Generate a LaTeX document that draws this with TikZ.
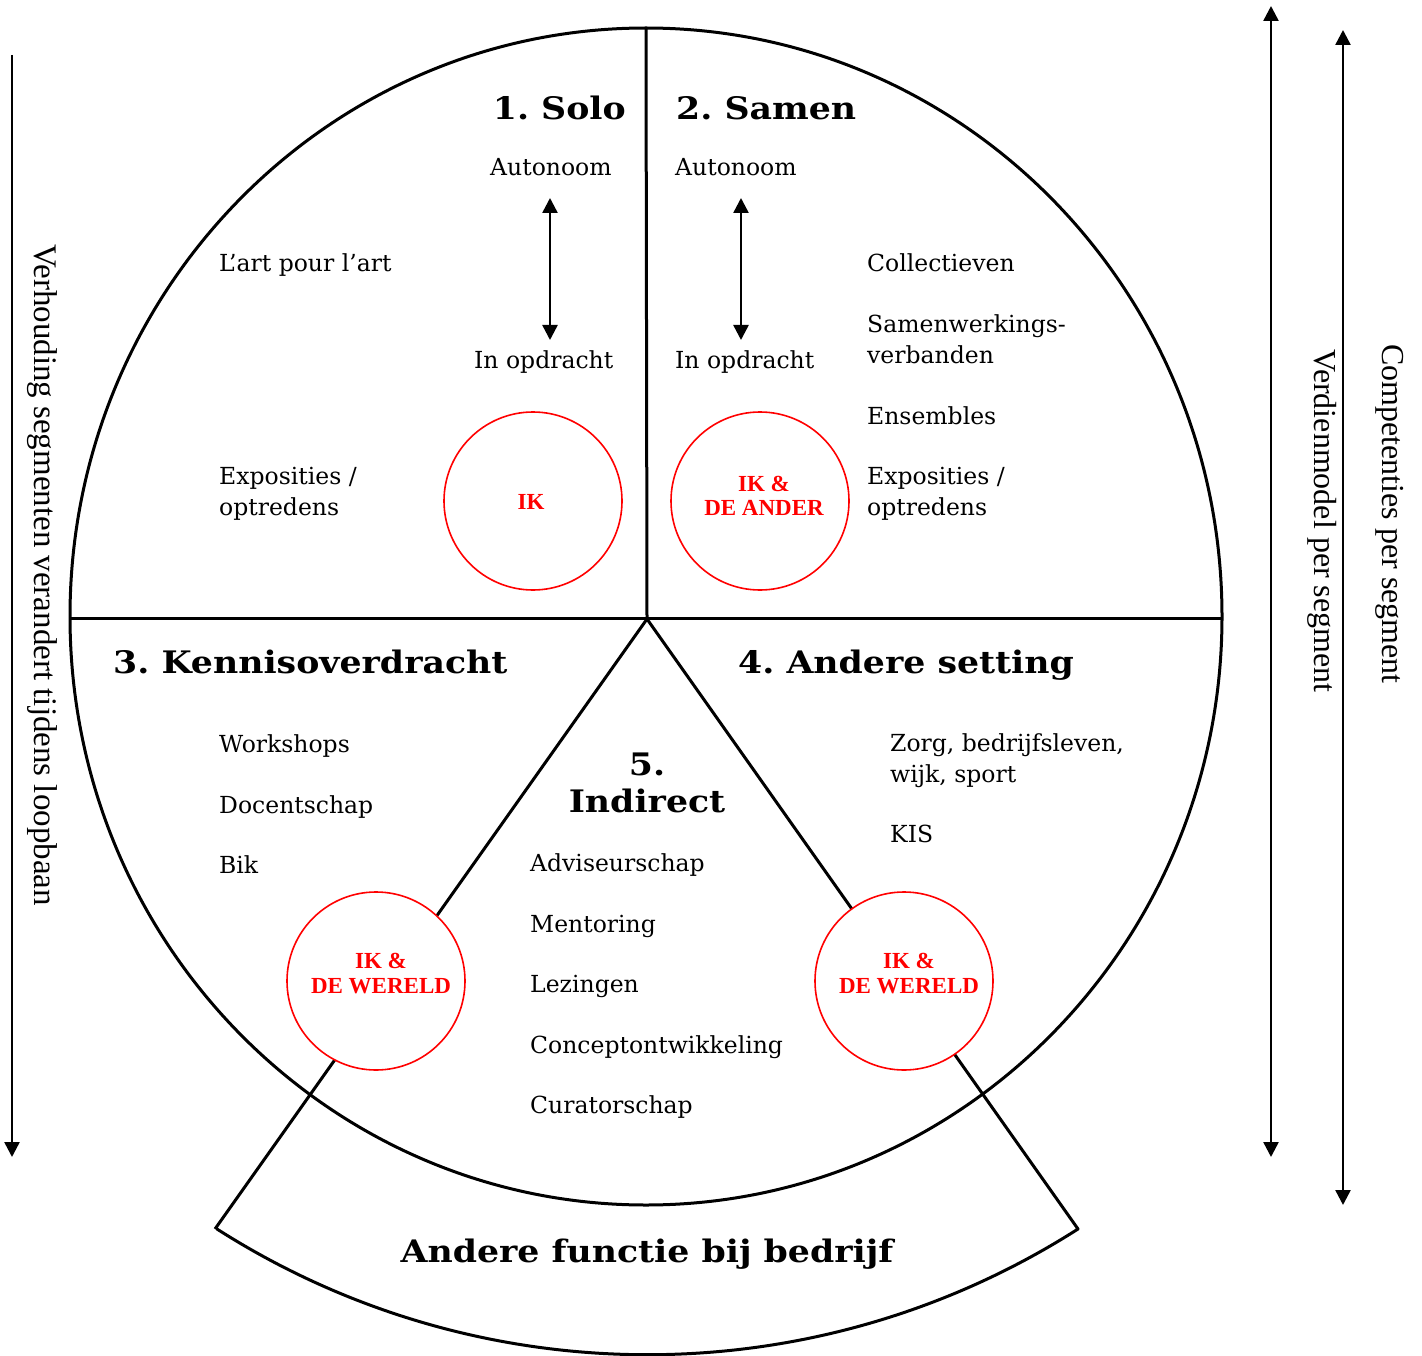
\documentclass[tikz,border=0pt]{standalone}
\usepackage{fontspec}
\setmainfont{DejaVu Serif}[BoldFeatures={FakeStretch=1.12}]
\newfontfamily\tms{Liberation Serif}
\usetikzlibrary{arrows.meta}
\frenchspacing
\tikzset{
  lbl/.style={anchor=base west, inner sep=0pt, font=\fontsize{23.5}{28}\selectfont},
  ttl/.style={inner sep=0pt, font=\bfseries\fontsize{31}{36}\selectfont},
  redc/.style={circle, draw=red, line width=1.6pt, fill=white, minimum size=178pt, inner sep=0pt},
  redt/.style={anchor=base, inner sep=0pt, text=red, font=\tms\bfseries\fontsize{23}{25}\selectfont},
  side/.style={rotate=-90, inner sep=0pt, font=\tms\fontsize{32}{36}\selectfont},
  thk/.style={line width=3pt, line join=round},
  arr/.style={line width=2.5pt, -{Triangle[length=15pt,width=15pt]}},
  darr/.style={line width=2.5pt, {Triangle[length=15pt,width=15pt]}-{Triangle[length=15pt,width=15pt]}}
}
\begin{document}
\begin{tikzpicture}[x=1pt,y=-1pt]
\useasboundingbox (0,0) rectangle (1422,1356);
% main shape
\coordinate (ctr) at (646,616.5);
\coordinate (apex) at (647,619);
\coordinate (BL) at (215,1229);
\coordinate (BR) at (1078,1229);
\coordinate (HL) at (70,618);
\coordinate (HR) at (1222,618);
\coordinate (VT) at (646,28);
\draw[thk] (ctr) ellipse [x radius=576, y radius=588.5];
\draw[thk] (HL) -- (HR);
\draw[thk] (VT) -- (apex);
\draw[thk] (BL) -- (apex) -- (BR) arc[start angle=57.44, end angle=122.56, radius=800];

% red circles
\node[redc] (cIK) at (533,501) {};
\node[redc] (cAnder) at (760,501) {};
\node[redc] (cWL) at (376,981) {};
\node[redc] (cWR) at (904,981) {};
\node[redt] (tIK) at (531,509) {IK};
\node[redt] (tA1) at (764,491) {IK \&};
\node[redt] (tA2) at (764,515) {DE ANDER};
\node[redt] (tWL1) at (381,968) {IK \&};
\node[redt] (tWL2) at (381,993) {DE WERELD};
\node[redt] (tWR1) at (909,968) {IK \&};
\node[redt] (tWR2) at (909,993) {DE WERELD};

% titles
\node[ttl, anchor=base east] (solo) at (626,120) {1. Solo};
\node[ttl, anchor=base west] (samen) at (676,120) {2. Samen};
\node[ttl, anchor=base west] (kennis) at (113,673) {3. Kennisoverdracht};
\node[ttl, anchor=base west] (andere) at (738,673) {4. Andere setting};
\node[ttl, anchor=base] (ind1) at (647,775) {5.};
\node[ttl, anchor=base] (ind2) at (647,812) {Indirect};
\node[ttl, anchor=base] (bedrijf) at (647,1262) {Andere functie bij bedrijf};

% segment 1
\node[lbl] (aut1) at (490,176) {Autonoom};
\node[lbl] (opd1) at (474,368) {In opdracht};
\node[lbl] (lart) at (219,272) {L’art pour l’art};
\node[lbl] (exp1a) at (219,484) {Exposities /};
\node[lbl] (exp1b) at (219,515) {optredens};
\coordinate (a1t) at (550,198);
\coordinate (a1b) at (550,340);
\draw[darr] (a1t) -- (a1b);

% segment 2
\node[lbl] (aut2) at (675,176) {Autonoom};
\node[lbl] (opd2) at (675,368) {In opdracht};
\node[lbl] (coll) at (867,272) {Collectieven};
\node[lbl] (samw1) at (867,333) {Samenwerkings-};
\node[lbl] (samw2) at (867,363) {verbanden};
\node[lbl] (ens) at (867,424) {Ensembles};
\node[lbl] (exp2a) at (867,484) {Exposities /};
\node[lbl] (exp2b) at (867,515) {optredens};
\coordinate (a2t) at (741,198);
\coordinate (a2b) at (741,340);
\draw[darr] (a2t) -- (a2b);

% segment 3
\node[lbl] (work) at (219,752) {Workshops};
\node[lbl] (doc) at (219,813) {Docentschap};
\node[lbl] (bik) at (219,873) {Bik};

% segment 5
\node[lbl] (adv) at (530,871) {Adviseurschap};
\node[lbl] (ment) at (530,932) {Mentoring};
\node[lbl] (lez) at (530,992) {Lezingen};
\node[lbl] (conc) at (530,1053) {Conceptontwikkeling};
\node[lbl] (cur) at (530,1113) {Curatorschap};

% segment 4
\node[lbl] (zorg1) at (890,751) {Zorg, bedrijfsleven,};
\node[lbl] (zorg2) at (890,782) {wijk, sport};
\node[lbl] (kis) at (890,842) {KIS};

% side arrows
\coordinate (Lt) at (12,55);
\coordinate (Lb) at (12,1157);
\draw[arr] (Lt) -- (Lb);
\node[side, font=\tms\fontsize{33}{36}\selectfont] (verh) at (42,575) {Verhouding segmenten verandert tijdens loopbaan};
\coordinate (R1t) at (1271,6);
\coordinate (R1b) at (1271,1157);
\draw[darr] (R1t) -- (R1b);
\coordinate (R2t) at (1343,30);
\coordinate (R2b) at (1343,1205);
\draw[darr] (R2t) -- (R2b);
\node[side, fill=white, inner xsep=2pt] (verd) at (1322,521) {Verdienmodel per segment};
\node[side] (comp) at (1390,514) {Competenties per segment};
\end{tikzpicture}
\end{document}
